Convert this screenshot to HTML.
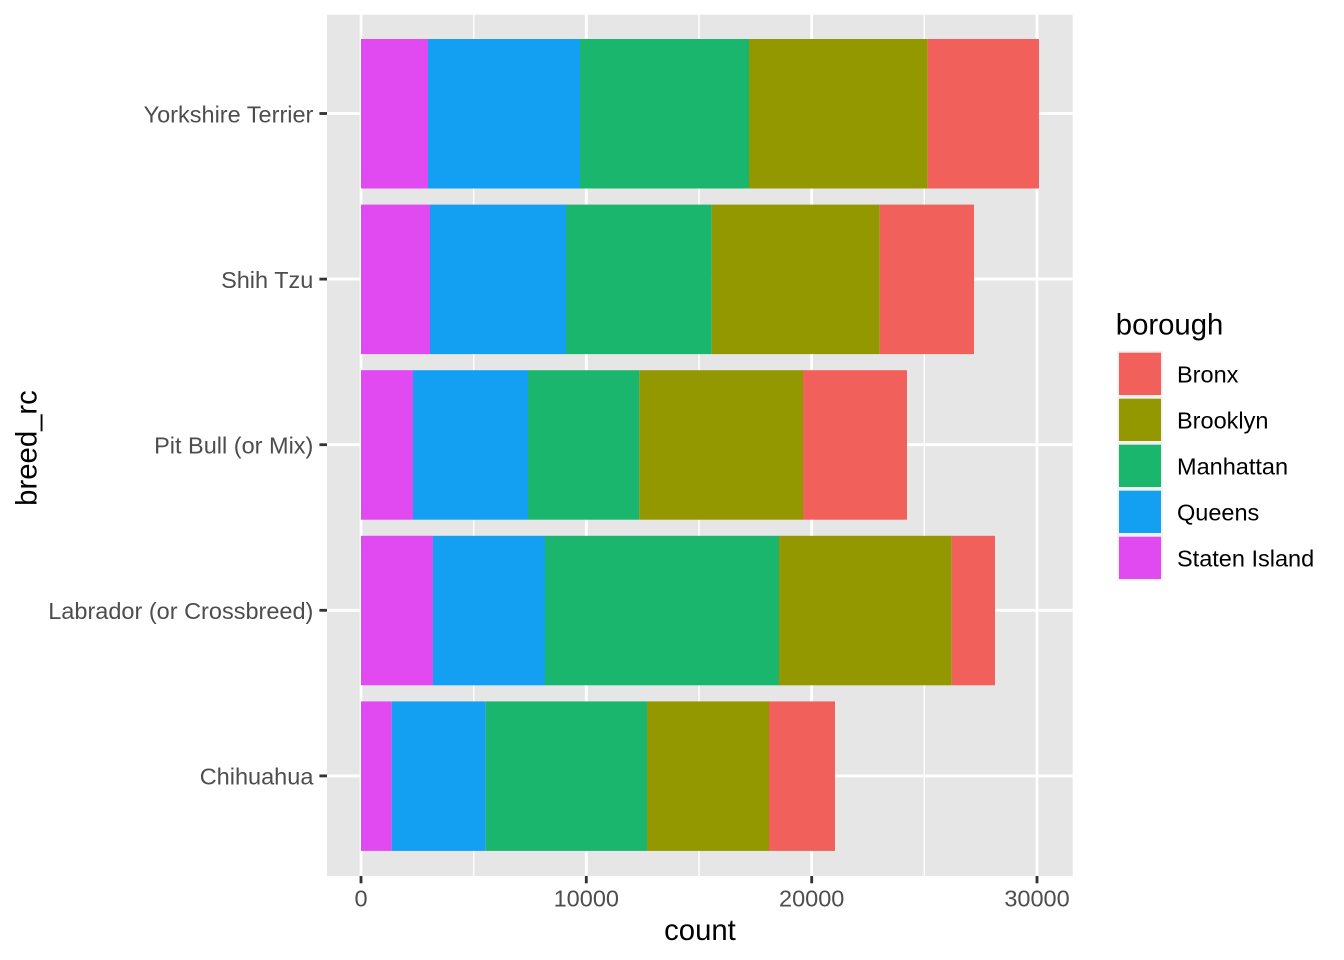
<!DOCTYPE html>
<html>
<head>
<meta charset="utf-8">
<style>
  html, body { margin: 0; padding: 0; background: #ffffff; }
  svg { display: block; }
  text { font-family: "Liberation Sans", Arial, Helvetica, sans-serif; }
</style>
</head>
<body>
<svg width="1344" height="960" viewBox="0 0 1344 960" xmlns="http://www.w3.org/2000/svg">
  <rect x="0" y="0" width="1344" height="960" fill="#ffffff"/>

  <!-- panel -->
  <rect x="327" y="14.7" width="745.7" height="861.3" fill="#E6E6E6"/>

  <!-- minor vertical gridlines -->
  <g stroke="#ffffff" stroke-width="1.42">
    <line x1="473.7" y1="14.7" x2="473.7" y2="876"/>
    <line x1="699" y1="14.7" x2="699" y2="876"/>
    <line x1="924.3" y1="14.7" x2="924.3" y2="876"/>
  </g>
  <!-- major gridlines -->
  <g stroke="#ffffff" stroke-width="2.84">
    <line x1="361" y1="14.7" x2="361" y2="876"/>
    <line x1="586.3" y1="14.7" x2="586.3" y2="876"/>
    <line x1="811.7" y1="14.7" x2="811.7" y2="876"/>
    <line x1="1037" y1="14.7" x2="1037" y2="876"/>
    <line x1="327" y1="113.5" x2="1072.7" y2="113.5"/>
    <line x1="327" y1="279.1" x2="1072.7" y2="279.1"/>
    <line x1="327" y1="444.7" x2="1072.7" y2="444.7"/>
    <line x1="327" y1="610.3" x2="1072.7" y2="610.3"/>
    <line x1="327" y1="775.9" x2="1072.7" y2="775.9"/>
  </g>

  <!-- bars -->
  <!-- Yorkshire Terrier -->
  <g>
    <rect x="361" y="39" width="67" height="149.5" fill="#E04AF0"/>
    <rect x="428" y="39" width="152" height="149.5" fill="#14A0F2"/>
    <rect x="580" y="39" width="169" height="149.5" fill="#1AB66D"/>
    <rect x="749" y="39" width="178.7" height="149.5" fill="#939700"/>
    <rect x="927.7" y="39" width="111.3" height="149.5" fill="#F2605C"/>
  </g>
  <!-- Shih Tzu -->
  <g>
    <rect x="361" y="204.6" width="69" height="149.5" fill="#E04AF0"/>
    <rect x="430" y="204.6" width="136" height="149.5" fill="#14A0F2"/>
    <rect x="566" y="204.6" width="145.7" height="149.5" fill="#1AB66D"/>
    <rect x="711.7" y="204.6" width="168" height="149.5" fill="#939700"/>
    <rect x="879.7" y="204.6" width="94.3" height="149.5" fill="#F2605C"/>
  </g>
  <!-- Pit Bull -->
  <g>
    <rect x="361" y="370.2" width="52" height="149.5" fill="#E04AF0"/>
    <rect x="413" y="370.2" width="115" height="149.5" fill="#14A0F2"/>
    <rect x="528" y="370.2" width="111.3" height="149.5" fill="#1AB66D"/>
    <rect x="639.3" y="370.2" width="163.7" height="149.5" fill="#939700"/>
    <rect x="803" y="370.2" width="104" height="149.5" fill="#F2605C"/>
  </g>
  <!-- Labrador -->
  <g>
    <rect x="361" y="535.8" width="72" height="149.5" fill="#E04AF0"/>
    <rect x="433" y="535.8" width="112" height="149.5" fill="#14A0F2"/>
    <rect x="545" y="535.8" width="234" height="149.5" fill="#1AB66D"/>
    <rect x="779" y="535.8" width="172.7" height="149.5" fill="#939700"/>
    <rect x="951.7" y="535.8" width="43.3" height="149.5" fill="#F2605C"/>
  </g>
  <!-- Chihuahua -->
  <g>
    <rect x="361" y="701.4" width="30.7" height="149.5" fill="#E04AF0"/>
    <rect x="391.7" y="701.4" width="94" height="149.5" fill="#14A0F2"/>
    <rect x="485.7" y="701.4" width="161.3" height="149.5" fill="#1AB66D"/>
    <rect x="647" y="701.4" width="122" height="149.5" fill="#939700"/>
    <rect x="769" y="701.4" width="66" height="149.5" fill="#F2605C"/>
  </g>

  <!-- axis ticks -->
  <g stroke="#333333" stroke-width="2.84">
    <line x1="319.4" y1="113.5" x2="327" y2="113.5"/>
    <line x1="319.4" y1="279.1" x2="327" y2="279.1"/>
    <line x1="319.4" y1="444.7" x2="327" y2="444.7"/>
    <line x1="319.4" y1="610.3" x2="327" y2="610.3"/>
    <line x1="319.4" y1="775.9" x2="327" y2="775.9"/>
    <line x1="361" y1="876" x2="361" y2="883.3"/>
    <line x1="586.3" y1="876" x2="586.3" y2="883.3"/>
    <line x1="811.7" y1="876" x2="811.7" y2="883.3"/>
    <line x1="1037" y1="876" x2="1037" y2="883.3"/>
  </g>

  <!-- y tick labels -->
  <g fill="#4D4D4D" font-size="23.5" text-anchor="end">
    <text x="313.4" y="122.3">Yorkshire Terrier</text>
    <text x="313.4" y="287.9">Shih Tzu</text>
    <text x="313.4" y="453.5">Pit Bull (or Mix)</text>
    <text x="313.4" y="619.1">Labrador (or Crossbreed)</text>
    <text x="313.4" y="784.7">Chihuahua</text>
  </g>

  <!-- x tick labels -->
  <g fill="#4D4D4D" font-size="23.5" text-anchor="middle">
    <text x="361" y="906.5">0</text>
    <text x="586.3" y="906.5">10000</text>
    <text x="811.7" y="906.5">20000</text>
    <text x="1037" y="906.5">30000</text>
  </g>

  <!-- axis titles -->
  <text x="700" y="940" font-size="29.3" fill="#000000" text-anchor="middle">count</text>
  <text x="0" y="0" font-size="29.3" fill="#000000" text-anchor="middle" transform="translate(36.5,448) rotate(-90)">breed_rc</text>

  <!-- legend -->
  <text x="1115.8" y="334.3" font-size="29.3" fill="#000000">borough</text>
  <rect x="1117.3" y="350.7" width="45.4" height="230" fill="#F0F0F0"/>
  <rect x="1119" y="352.7" width="42" height="42.3" fill="#F2605C"/>
  <rect x="1119" y="398.7" width="42" height="42.3" fill="#939700"/>
  <rect x="1119" y="444.7" width="42" height="42.3" fill="#1AB66D"/>
  <rect x="1119" y="490.7" width="42" height="42.3" fill="#14A0F2"/>
  <rect x="1119" y="536.7" width="42" height="42.3" fill="#E04AF0"/>
  <g fill="#000000" font-size="23.5">
    <text x="1177" y="382.7">Bronx</text>
    <text x="1177" y="428.7">Brooklyn</text>
    <text x="1177" y="474.7">Manhattan</text>
    <text x="1177" y="520.7">Queens</text>
    <text x="1177" y="566.7">Staten Island</text>
  </g>
</svg>
</body>
</html>
